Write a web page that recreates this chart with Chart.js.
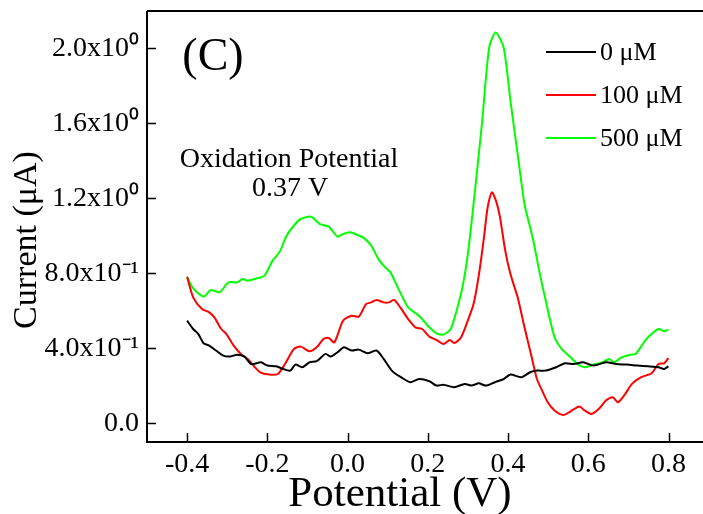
<!DOCTYPE html>
<html><head><meta charset="utf-8">
<script src="https://cdn.jsdelivr.net/npm/chart.js@4/dist/chart.umd.min.js"></script>
<style>html,body{margin:0;padding:0;background:#fff;}#wrap{width:703px;height:514px;}</style>
</head><body><div id="wrap"><canvas id="c" width="703" height="514"></canvas></div>
<script>
const seriesLabels = ['0 μM', '100 μM', '500 μM'];
const seriesColors = ['#000000', '#ff0000', '#00ff00'];

const potential0 = [-0.4,-0.385,-0.372,-0.359,-0.345,-0.328,-0.31,-0.293,-0.275,-0.257,-0.24,-0.216,-0.2,-0.178,-0.161,-0.143,-0.13,-0.113,-0.095,-0.077,-0.055,-0.042,-0.025,-0.009,0.011,0.028,0.05,0.072,0.09,0.112,0.134,0.156,0.178,0.204,0.222,0.239,0.266,0.292,0.309,0.327,0.345,0.367,0.389,0.406,0.433,0.455,0.472,0.494,0.52,0.542,0.564,0.587,0.613,0.644,0.67,0.696,0.723,0.749,0.775,0.789,0.8];
const current0 = [0.548,0.503,0.476,0.427,0.414,0.388,0.361,0.356,0.366,0.356,0.316,0.325,0.308,0.304,0.29,0.281,0.313,0.299,0.325,0.331,0.37,0.356,0.379,0.405,0.388,0.393,0.373,0.388,0.343,0.277,0.245,0.219,0.236,0.224,0.201,0.206,0.192,0.21,0.201,0.213,0.201,0.219,0.236,0.26,0.245,0.272,0.281,0.281,0.299,0.32,0.316,0.325,0.308,0.325,0.316,0.313,0.308,0.304,0.299,0.29,0.304];

const potential100 = [-0.4,-0.385,-0.363,-0.345,-0.332,-0.315,-0.302,-0.284,-0.266,-0.249,-0.231,-0.218,-0.196,-0.174,-0.156,-0.134,-0.117,-0.095,-0.077,-0.06,-0.047,-0.033,-0.011,0.01,0.028,0.046,0.059,0.072,0.09,0.103,0.116,0.134,0.151,0.169,0.186,0.204,0.222,0.239,0.255,0.266,0.283,0.301,0.314,0.327,0.34,0.349,0.36,0.371,0.38,0.393,0.406,0.424,0.441,0.459,0.472,0.485,0.499,0.516,0.538,0.556,0.578,0.591,0.608,0.626,0.644,0.661,0.674,0.692,0.709,0.731,0.758,0.775,0.789,0.8];
const current100 = [0.782,0.672,0.61,0.592,0.565,0.503,0.476,0.414,0.37,0.343,0.299,0.272,0.26,0.263,0.316,0.396,0.409,0.384,0.405,0.45,0.455,0.432,0.548,0.574,0.569,0.636,0.645,0.658,0.645,0.645,0.658,0.61,0.556,0.512,0.503,0.462,0.444,0.423,0.444,0.428,0.459,0.556,0.636,0.788,0.992,1.15,1.232,1.18,1.099,0.921,0.796,0.672,0.512,0.352,0.236,0.174,0.112,0.068,0.044,0.064,0.089,0.068,0.05,0.076,0.121,0.139,0.112,0.156,0.21,0.245,0.267,0.316,0.32,0.348];

const potential500 = [-0.4,-0.385,-0.359,-0.341,-0.319,-0.297,-0.275,-0.262,-0.249,-0.227,-0.207,-0.187,-0.17,-0.152,-0.134,-0.117,-0.091,-0.069,-0.047,-0.025,-0.011,0.006,0.024,0.041,0.059,0.077,0.09,0.107,0.125,0.151,0.178,0.204,0.222,0.239,0.257,0.274,0.288,0.301,0.318,0.335,0.353,0.369,0.389,0.406,0.424,0.441,0.455,0.463,0.476,0.494,0.516,0.534,0.556,0.573,0.591,0.617,0.635,0.652,0.665,0.683,0.705,0.718,0.736,0.749,0.775,0.789,0.8];
const current500 = [0.779,0.72,0.676,0.711,0.699,0.752,0.752,0.77,0.761,0.773,0.788,0.868,0.912,1.001,1.054,1.09,1.102,1.063,1.049,0.996,1.01,1.019,1.006,0.988,0.948,0.876,0.841,0.805,0.725,0.619,0.574,0.512,0.48,0.473,0.503,0.619,0.743,0.921,1.25,1.6,2.005,2.085,2.005,1.72,1.436,1.17,1.046,0.975,0.832,0.654,0.459,0.396,0.352,0.316,0.299,0.316,0.325,0.343,0.325,0.352,0.366,0.37,0.423,0.459,0.503,0.491,0.5];

const xTickValues = [-0.4, -0.2, 0.0, 0.2, 0.4, 0.6, 0.8];
const xTickLabels = ['-0.4', '-0.2', '0.0', '0.2', '0.4', '0.6', '0.8'];
const yTickValues = [0.0, 0.4, 0.8, 1.2, 1.6, 2.0];
const yTickLabels = ['0.0', '4.0x10⁻¹', '8.0x10⁻¹', '1.2x10⁰', '1.6x10⁰', '2.0x10⁰'];

const xTitle = 'Potential (V)';
const yTitle = 'Current (μA)';
const panelLabel = '(C)';
const noteLines = ['Oxidation Potential', '0.37 V'];

function zip(xs, ys) {
  const n = Math.min(xs.length, ys.length);
  const out = [];
  for (let i = 0; i < n; i++) out.push({x: xs[i], y: ys[i]});
  return out;
}
function labelFor(values, labels, v) {
  for (let i = 0; i < values.length; i++) if (Math.abs(values[i] - v) < 1e-6) return labels[i];
  return null;
}

const FONT = "'Liberation Serif', 'Times New Roman', serif";

const framePlugin = {
  id: 'frame',
  afterDraw(chart) {
    const ctx = chart.ctx;
    const a = chart.chartArea;
    const xs = chart.scales.x, ys = chart.scales.y;
    ctx.save();
    ctx.strokeStyle = '#000';
    ctx.lineWidth = 2;
    ctx.beginPath();
    ctx.moveTo(a.left, a.top); ctx.lineTo(chart.width, a.top);
    ctx.moveTo(a.left, a.top); ctx.lineTo(a.left, a.bottom);
    ctx.moveTo(a.left - 1, a.bottom); ctx.lineTo(chart.width, a.bottom);
    ctx.stroke();
    ctx.lineWidth = 1.5;
    ctx.beginPath();
    xs.ticks.forEach(t => {
      const px = Math.round(xs.getPixelForValue(t.value)) + 0.5;
      const major = labelFor(xTickValues, xTickLabels, t.value) !== null;
      const len = major ? 9 : 5;
      ctx.moveTo(px, a.bottom); ctx.lineTo(px, a.bottom - len);
    });
    ys.ticks.forEach(t => {
      const py = Math.round(ys.getPixelForValue(t.value)) + 0.5;
      ctx.moveTo(a.left, py); ctx.lineTo(a.left + 9, py);
    });
    ctx.stroke();

    ctx.fillStyle = '#000';
    ctx.textBaseline = 'middle';
    // axis titles
    ctx.font = '43px ' + FONT;
    ctx.textAlign = 'center';
    ctx.fillText(xTitle, 400, 495);
    ctx.save();
    ctx.translate(27, 240);
    ctx.rotate(-Math.PI / 2);
    ctx.font = '34px ' + FONT;
    ctx.fillText(yTitle, 0, 0);
    ctx.restore();
    // panel label and note
    ctx.font = '46px ' + FONT;
    ctx.fillText(panelLabel, 213, 58);
    ctx.font = '28px ' + FONT;
    ctx.fillText(noteLines[0], 289, 160);
    ctx.fillText(noteLines[1], 290, 189);
    // legend
    const ly = [52, 95, 138];
    chart.data.datasets.forEach((ds, i) => {
      ctx.strokeStyle = ds.borderColor;
      ctx.lineWidth = 2;
      ctx.beginPath();
      ctx.moveTo(546, ly[i]); ctx.lineTo(596, ly[i]);
      ctx.stroke();
      ctx.textAlign = 'left';
      ctx.font = '26px ' + FONT;
      ctx.fillText(ds.label, 600, ly[i] + 1);
    });
    ctx.restore();
  }
};

const datasets = [
  {label: seriesLabels[0], data: zip(potential0, current0), borderColor: seriesColors[0]},
  {label: seriesLabels[1], data: zip(potential100, current100), borderColor: seriesColors[1]},
  {label: seriesLabels[2], data: zip(potential500, current500), borderColor: seriesColors[2]}
].map(d => Object.assign(d, {borderWidth: 2, pointRadius: 0, tension: 0.25, fill: false}));

new Chart(document.getElementById('c'), {
  type: 'line',
  data: {datasets},
  options: {
    responsive: false,
    animation: false,
    devicePixelRatio: 1,
    layout: {padding: {top: 11, right: 0, left: 0, bottom: 0}},
    plugins: {legend: {display: false}, tooltip: {enabled: false}},
    scales: {
      x: {
        type: 'linear', min: -0.5, max: 0.886,
        afterFit(s) { s.height = 72; s.paddingLeft = 0; s.paddingRight = 0; },
        grid: {display: false, drawTicks: false},
        border: {display: false},
        ticks: {
          stepSize: 0.1, includeBounds: false, autoSkip: false, maxRotation: 0, padding: 6,
          color: '#000', font: {family: FONT, size: 28},
          callback: v => labelFor(xTickValues, xTickLabels, v)
        }
      },
      y: {
        type: 'linear', min: -0.1, max: 2.2,
        afterFit(s) { s.width = 147; s.paddingTop = 0; s.paddingBottom = 0; },
        grid: {display: false, drawTicks: false},
        border: {display: false},
        ticks: {
          stepSize: 0.2, includeBounds: false, autoSkip: false, padding: 8,
          color: '#000', font: {family: FONT, size: 28},
          callback: v => labelFor(yTickValues, yTickLabels, v)
        }
      }
    }
  },
  plugins: [framePlugin]
});
</script></body></html>
